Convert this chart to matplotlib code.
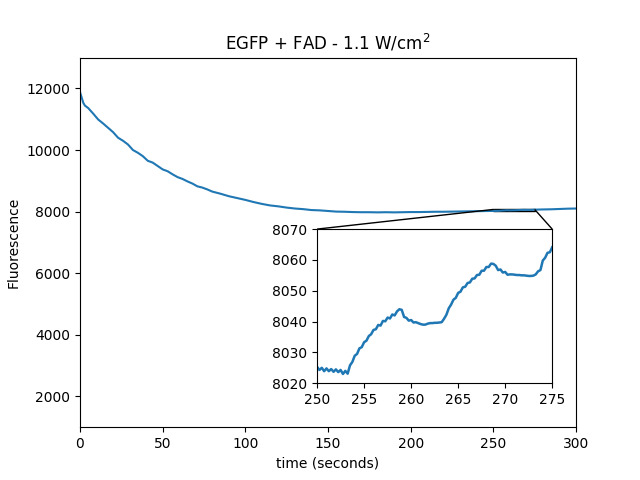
import numpy as np
import matplotlib
matplotlib.use("Agg")
import matplotlib.pyplot as plt
from mpl_toolkits.axes_grid1.inset_locator import mark_inset

# Main trace (coarse samples outside the zoomed window)
t_before = [0, 1, 2, 3, 5, 8, 11, 14, 17, 20, 23, 26, 29, 32, 35, 38, 41, 44, 47,
            50, 53, 56, 59, 62, 65, 68, 71, 74, 77, 80, 85, 90, 95, 100, 105, 110,
            115, 120, 125, 130, 135, 140, 145, 150, 155, 160, 165, 170, 175, 180,
            185, 190, 195, 200, 205, 210, 215, 220, 225, 230, 235, 240, 245]
v_before = [11880, 11700, 11530, 11440, 11360, 11180, 10990, 10860, 10720, 10580,
            10400, 10300, 10180, 10000, 9910, 9800, 9650, 9590, 9480, 9370, 9310,
            9210, 9120, 9060, 8980, 8910, 8820, 8780, 8720, 8650, 8580, 8500, 8440,
            8380, 8310, 8250, 8200, 8170, 8130, 8100, 8080, 8050, 8040, 8020, 8000,
            7995, 7985, 7980, 7980, 7975, 7980, 7975, 7980, 7985, 7985, 7990, 7995,
            7995, 8000, 8005, 8010, 8015, 8020]

# Zoomed window 250-275 s (0.25 s samples)
v_zoom = [8025.3, 8024.3, 8025.0, 8023.9, 8024.8, 8023.9, 8024.6, 8023.7, 8024.5, 8023.6,
          8024.3, 8023.0, 8024.0, 8023.1, 8025.8, 8026.9, 8028.9, 8029.5, 8031.3, 8031.7,
          8033.3, 8033.8, 8035.3, 8035.9, 8037.3, 8037.5, 8038.9, 8038.7, 8040.2, 8040.1,
          8041.3, 8041.0, 8042.3, 8042.0, 8043.3, 8044.0, 8043.8, 8041.5, 8041.2, 8040.3,
          8040.5, 8039.7, 8039.8, 8039.5, 8039.2, 8039.0, 8039.0, 8039.3, 8039.5, 8039.5,
          8039.6, 8039.6, 8039.7, 8039.8, 8040.9, 8042.2, 8044.3, 8045.5, 8047.1, 8047.7,
          8049.3, 8049.7, 8051.1, 8051.3, 8052.5, 8052.7, 8053.9, 8054.0, 8055.1, 8055.2,
          8056.5, 8056.5, 8057.7, 8057.7, 8058.8, 8058.7, 8058.1, 8056.7, 8056.9, 8055.9,
          8056.1, 8055.2, 8055.3, 8055.3, 8055.2, 8055.1, 8055.1, 8055.0, 8055.0, 8054.9,
          8054.8, 8054.8, 8054.9, 8055.3, 8056.3, 8056.7, 8059.8, 8060.7, 8062.3, 8062.5,
          8064.1]
t_zoom = list(np.linspace(250, 275, len(v_zoom)))

t_after = [280, 285, 290, 295, 300]
v_after = [8070, 8075, 8085, 8095, 8100]

t_all = t_before + t_zoom + t_after
v_all = v_before + v_zoom + v_after

fig = plt.figure(figsize=(6.4, 4.8), dpi=100)
ax = fig.add_subplot(111)
ax.plot(t_all, v_all, color="#1f77b4", lw=1.5)
ax.set_xlim(0, 300)
ax.set_ylim(1000, 13000)
ax.set_xlabel("time (seconds)")
ax.set_ylabel("Fluorescence")
ax.set_title("EGFP + FAD - 1.1 W/cm$^2$")

axins = ax.inset_axes([0.478, 0.119, 0.474, 0.417])
axins.plot(t_zoom, v_zoom, color="#1f77b4", lw=1.8)
axins.set_xlim(250, 275)
axins.set_ylim(8020, 8070)
mark_inset(ax, axins, loc1=2, loc2=1, fc="none", ec="0")

fig.savefig("out.png", dpi=100)
